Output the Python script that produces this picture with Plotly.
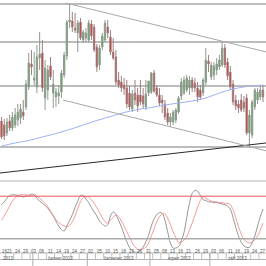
import plotly.graph_objects as go
import pandas as pd

# ---------------- data ----------------
N = 97
dates = pd.bdate_range("2013-05-16", periods=N)
idx = list(range(N))

open_ = [79,75,67,79,72,75,80,82,88,93,113,136,120,113,142,147,102,110,134,107,
         103,104,108,125,144,178,179,172,167,178,160,162,160,176,173,153,135,153,160,173,
         163,148,143,120,118,115,112,107,91,107,105,105,104,93,107,108,127,112,105,100,
         96,87,78,78,80,88,104,107,110,112,120,117,112,110,107,118,139,123,125,130,
         133,135,152,138,128,116,100,96,100,98,102,67,65,93,100,103,110]
high = [83,81,82,85,88,92,96,96,100,120,147,150,148,155,168,160,140,135,143,130,
        112,115,130,148,180,196,188,187,180,182,170,172,180,180,176,156,155,167,180,180,
        170,162,150,128,124,122,120,114,110,120,112,120,112,120,118,128,130,115,112,105,
        100,92,87,90,92,104,122,124,125,124,123,122,118,115,122,152,145,138,138,142,
        145,159,156,142,134,120,105,100,106,104,106,90,100,112,112,115,115]
low = [61,60,64,69,69,72,74,76,80,90,110,125,115,107,130,108,90,100,120,92,
       93,96,102,122,140,172,168,167,148,160,157,158,157,160,148,128,130,150,158,162,
       145,140,115,112,108,105,92,90,88,95,88,95,92,90,104,106,107,103,94,87,
       80,75,73,75,77,86,100,105,108,105,108,108,98,100,104,115,128,120,120,125,
       130,133,132,120,110,95,90,87,88,88,65,53,62,90,96,100,98]
close = [63,64,78,72,83,85,88,91,84,116,137,133,122,143,146,112,132,130,123,116,
         108,107,127,145,178,180,173,170,177,162,168,167,177,164,150,133,152,164,177,167,
         148,142,118,115,112,111,96,93,106,100,94,98,96,106,119,127,109,105,97,97,
         83,78,83,88,90,102,118,120,122,120,112,112,103,103,120,140,136,135,134,136,
         140,152,135,124,113,98,94,92,90,92,67,85,98,110,108,110,103]

# moving average read at sample candles
ma_idx = [0,5,10,15,20,25,30,35,40,45,50,55,60,65,70,75,80,85,90,96]
ma_val = [54,57,59.5,63,66.5,70.5,75,79.5,83.5,87.5,90.5,92.5,95,97,99,102,107,111,113.5,115]

# horizontal support / resistance levels (price)
levels = [196, 158, 114, 53]

# trend lines: (index, price) end points
support_x = [-5, 100]
support_y = [25.6, 57.9]
chan_up_x = [23.5, 100]
chan_up_y = [197, 146.2]
chan_lo_x = [22.6, 100]
chan_lo_y = [100, 47.3]

# stochastic oscillator
stoch_k = [68,72,77,81,82,82,81,80,79,80,81,83,82,77,73,70,67,63,58,52,
           45,38,33,31,38,46,54,64,73,81,81,76,71,64,58,52,45,41,38,40,
           52,58,54,46,37,26,16,8,3,1,1,4,8,16,25,38,48,54,57,56,
           46,30,14,7,7,9,17,29,50,70,84,88,87,81,75,74,72,72,71,71,
           70,69,68,66,62,50,36,24,15,10,8,8,14,24,38,51,62]
stoch_d = [46,52,59,66,73,78,80,82,82,82,81,81,82,80,77,74,70,65,59,53,
           47,43,40,38,37,39,44,52,63,72,78,79,79,75,70,64,57,50,44,42,
           46,50,54,51,45,38,30,22,14,9,5,4,6,8,14,24,34,44,51,55,
           55,49,40,30,22,15,15,18,23,32,42,53,65,74,79,77,75,73,72,72,
           71,71,70,70,68,61,50,37,27,19,16,14,15,19,24,32,42]
stoch_levels = [80, 20]

month_names = {5: "2013", 6: "červen 2013", 7: "červenec 2013",
               8: "srpen 2013", 9: "září 2013"}

# ---------------- figure ----------------
W = H = 266
XR = [-0.55, 97.1]
main_dom = [1 - 180 / H, 1.0]
st_dom = [13 / H, 84 / H]
FONT = dict(size=4.5, color="#555", family="Liberation Sans")

fig = go.Figure()

fig.add_trace(go.Candlestick(
    x=idx, open=open_, high=high, low=low, close=close,
    increasing=dict(line=dict(color="#8f9c8f", width=1), fillcolor="#55a055"),
    decreasing=dict(line=dict(color="#a08080", width=1), fillcolor="#e01010"),
    whiskerwidth=0, showlegend=False, xaxis="x", yaxis="y"))

fig.add_trace(go.Scatter(x=ma_idx, y=ma_val, mode="lines",
                         line=dict(color="#9fb2f2", width=1, shape="spline"),
                         showlegend=False, xaxis="x", yaxis="y"))

for xs, ys, col, w in [(support_x, support_y, "#2a2a2a", 1.1),
                       (chan_up_x, chan_up_y, "#a8a8a8", 1),
                       (chan_lo_x, chan_lo_y, "#a8a8a8", 1)]:
    fig.add_trace(go.Scatter(x=xs, y=ys, mode="lines", line=dict(color=col, width=w),
                             showlegend=False, xaxis="x", yaxis="y"))

fig.add_trace(go.Scatter(x=idx, y=stoch_k, mode="lines",
                         line=dict(color="#8a8a8a", width=0.9, shape="spline"),
                         showlegend=False, xaxis="x2", yaxis="y2"))
fig.add_trace(go.Scatter(x=idx, y=stoch_d, mode="lines",
                         line=dict(color="#f39090", width=0.9, shape="spline"),
                         showlegend=False, xaxis="x2", yaxis="y2"))

shapes = []
for lv in levels:
    shapes.append(dict(type="line", xref="paper", yref="y", x0=0, x1=1, y0=lv, y1=lv,
                       line=dict(color="#a6a6a6", width=1.5), layer="below"))
shapes.append(dict(type="line", xref="paper", yref="y2", x0=0, x1=1,
                   y0=stoch_levels[0], y1=stoch_levels[0], line=dict(color="#ee5555", width=1)))
shapes.append(dict(type="line", xref="paper", yref="y2", x0=0, x1=1,
                   y0=stoch_levels[1], y1=stoch_levels[1], line=dict(color="#aaaaaa", width=1.5)))
# panel borders
for yp in [(H - 181) / H, (H - 253) / H, (H - 259.5) / H]:
    shapes.append(dict(type="line", xref="paper", yref="paper", x0=0, x1=1, y0=yp, y1=yp,
                       line=dict(color="#b5b5b5", width=1)))

annotations = []
# day label cells
for i in range(0, N, 3):
    a = dict(x=i, y=(H - 256.3) / H, xref="x", yref="paper",
             text=dates[i].strftime("%d"), showarrow=False, font=FONT)
    if i == 0:
        a.update(x=XR[0], xanchor="left")
    annotations.append(a)
    shapes.append(dict(type="line", xref="x", yref="paper", x0=i + 1.5, x1=i + 1.5,
                       y0=(H - 259.5) / H, y1=(H - 253) / H,
                       line=dict(color="#c0c0c0", width=1)))
# month cells
months = sorted(set(d.month for d in dates))
for m in months:
    pos = [i for i, d in enumerate(dates) if d.month == m]
    if pos[0] > 0:
        shapes.append(dict(type="line", xref="x", yref="paper", x0=pos[0] - 0.5, x1=pos[0] - 0.5,
                           y0=0, y1=(H - 253) / H, line=dict(color="#b0b0b0", width=1)))
    if m == months[0]:
        annotations.append(dict(x=XR[0] + 0.3, y=(H - 262.8) / H, xref="x", yref="paper",
                                xanchor="left", text=month_names[m], showarrow=False, font=FONT))
    else:
        annotations.append(dict(x=(pos[0] + pos[-1]) / 2, y=(H - 262.8) / H, xref="x", yref="paper",
                                text=month_names[m], showarrow=False, font=FONT))

ax = dict(range=XR, visible=False, showgrid=False, zeroline=False, fixedrange=True)
fig.update_layout(
    width=W, height=H, margin=dict(l=0, r=0, t=0, b=0),
    paper_bgcolor="white", plot_bgcolor="white",
    xaxis=dict(ax, domain=[0, 1], rangeslider=dict(visible=False)),
    xaxis2=dict(ax, domain=[0, 1], anchor="y2"),
    yaxis=dict(domain=main_dom, range=[20, 200], visible=False, showgrid=False, zeroline=False),
    yaxis2=dict(domain=st_dom, range=[0, 100], visible=False, showgrid=False, zeroline=False, anchor="x2"),
    shapes=shapes, annotations=annotations, showlegend=False,
)

fig.write_html("out.html")
